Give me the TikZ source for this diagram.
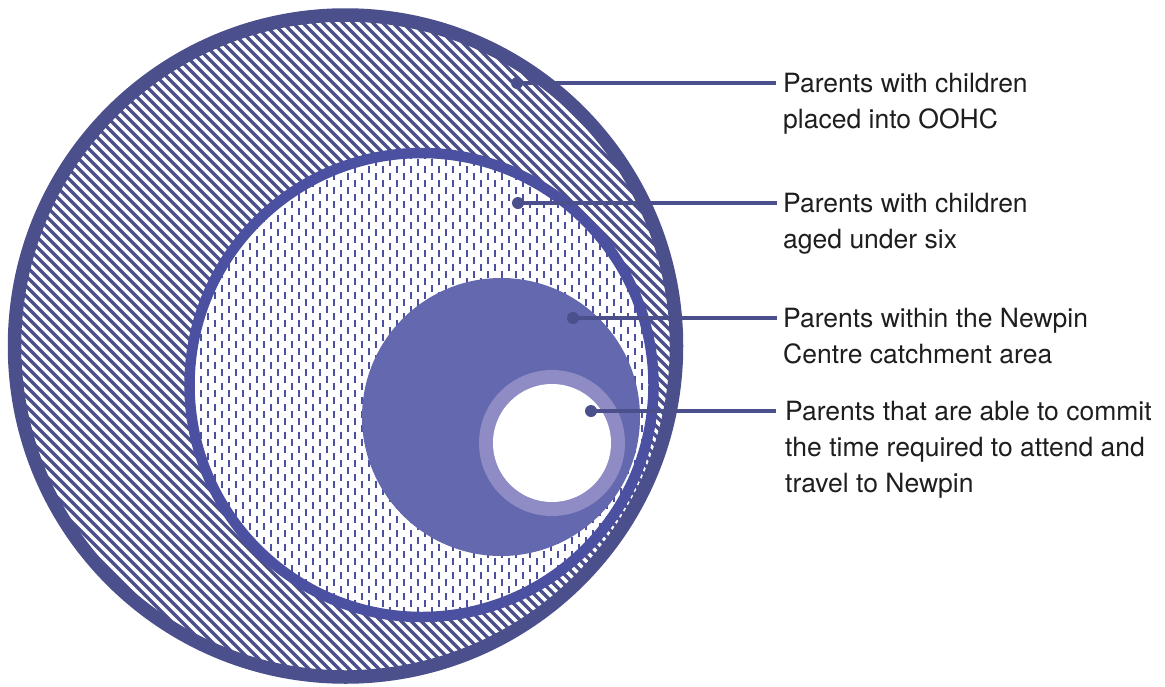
\documentclass[tikz,border=0pt]{standalone}
\usepackage{fontspec}
\setmainfont{TeX Gyre Heros}
\usetikzlibrary{positioning}
\definecolor{ringblue}{HTML}{4B4F8C}
\definecolor{midblue}{HTML}{4B50A0}
\definecolor{fillblue}{HTML}{6468AE}
\definecolor{paleblue}{HTML}{8F8BC4}
\definecolor{textgrey}{HTML}{1E1E1E}
\tikzset{
  leader/.style={draw=ringblue, line width=3.6pt},
  dot/.style={circle, fill=ringblue, inner sep=0pt, minimum size=12pt},
  label/.style={anchor=north west, align=left, text=textgrey, inner sep=0pt,
    font=\fontsize{26.5}{36}\selectfont}
}
\begin{document}
\begin{tikzpicture}[x=1pt, y=-1pt]
    \useasboundingbox (0,0) rectangle (1165,686);

    % outer set, diagonal hatching
    \begin{scope}
        \clip (345.5,346) circle (331);
        \foreach \i in {-720,-710,...,720}
            \draw[ringblue, line width=3.4pt] (\i,0) -- (\i+700,700);
    \end{scope}

    % second set, vertical dashes
    \fill[white] (421.5,385) circle (232);
    \begin{scope}
        \clip (421.5,385) circle (232);
        \foreach \i in {180,194,...,670}
            \draw[midblue, line width=1.8pt, dash pattern=on 7pt off 7pt] (\i,145) -- (\i,630);
        \foreach \i in {187,201,...,670}
            \draw[midblue, line width=1.8pt, dash pattern=on 7pt off 7pt] (\i,152) -- (\i,630);
    \end{scope}

    % catchment area
    \fill[fillblue] (501,417) circle (139);

    % able to commit
    \fill[paleblue] (552,443) circle (73);
    \fill[white] (552,443) circle (59);

    % borders
    \draw[ringblue, line width=13.5pt] (345.5,346) circle (331);
    \draw[midblue, line width=10.5pt] (421.5,385) circle (232);

    % labels
    \node[dot] (d1) at (517,83) {};
    \node[dot] (d2) at (518,203) {};
    \node[dot] (d3) at (573,318) {};
    \node[dot] (d4) at (591,411) {};

    \node[label] (l1) at (783,73) {Parents with children\\placed into OOHC};
    \node[label] (l2) at (783,193) {Parents with children\\aged under six};
    \node[label] (l3) at (783,308) {Parents within the Newpin\\Centre catchment area};
    \node[label] (l4) at (785,401) {Parents that are able to commit\\the time required to attend and\\travel to Newpin};

    \draw[leader] (d1.center) -- ++(259,0);
    \draw[leader] (d2.center) -- ++(259,0);
    \draw[leader] (d3.center) -- ++(204,0);
    \draw[leader] (d4.center) -- ++(185,0);
\end{tikzpicture}
\end{document}
